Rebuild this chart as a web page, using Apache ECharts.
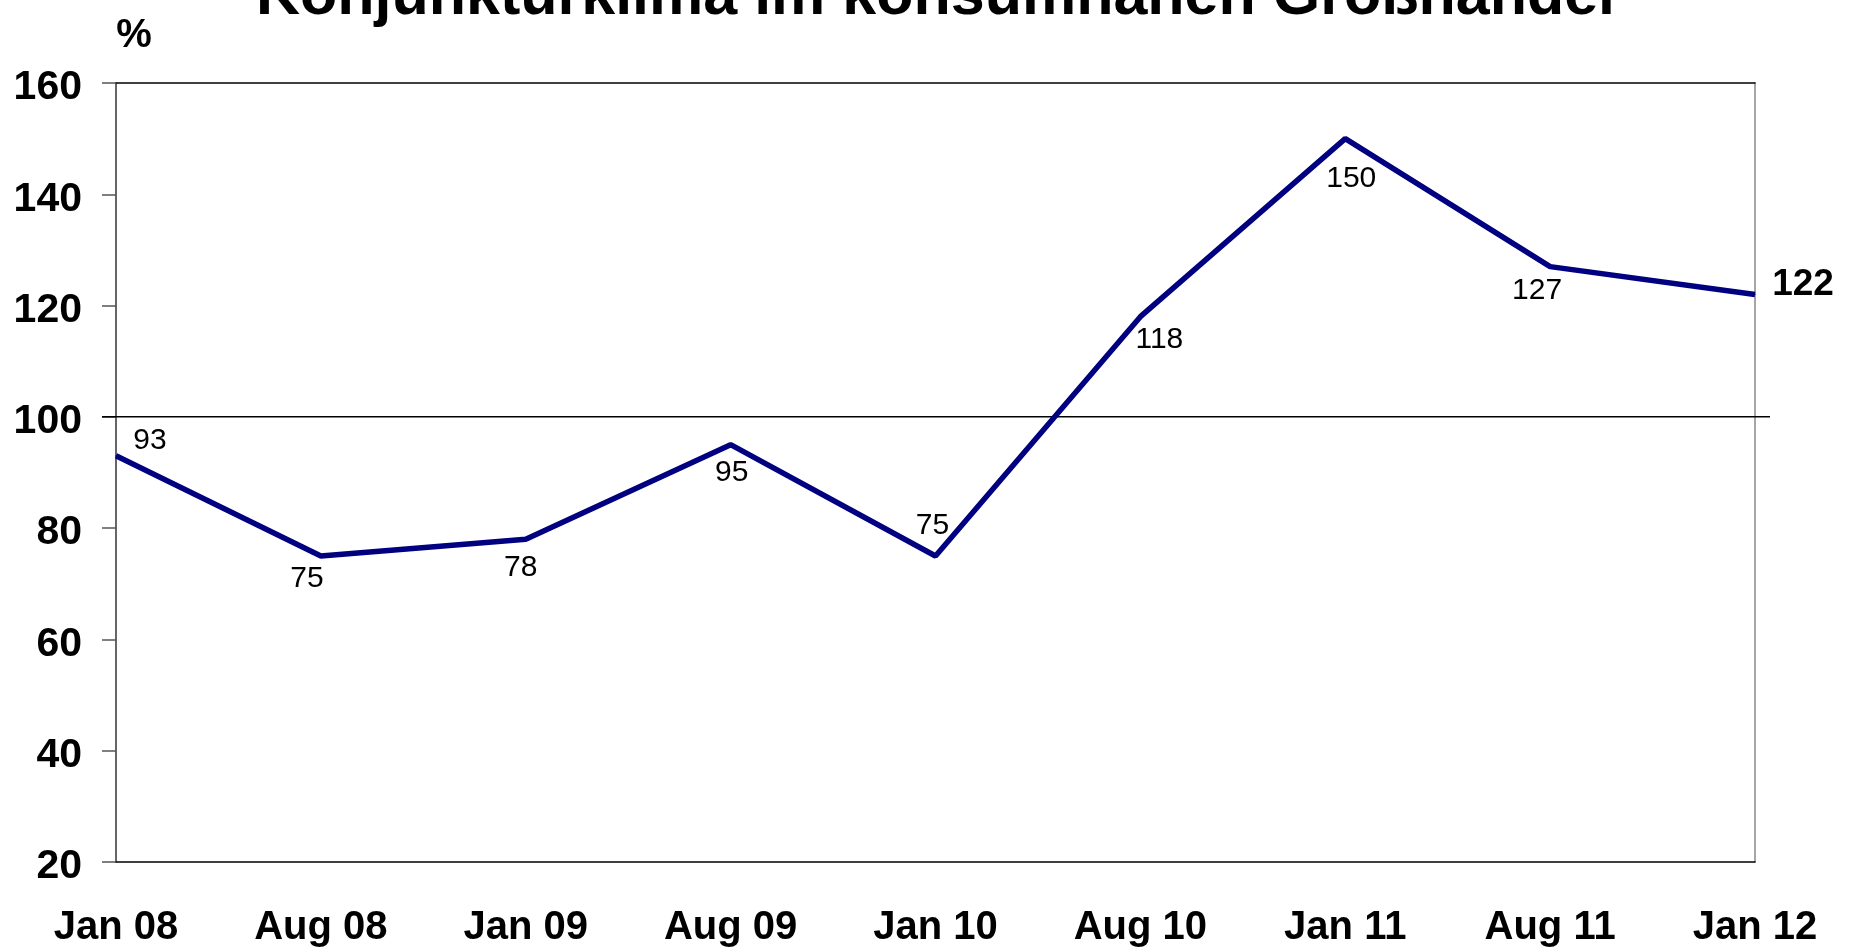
<!DOCTYPE html>
<html>
<head>
<meta charset="utf-8">
<script src="https://cdn.jsdelivr.net/npm/echarts@6/dist/echarts.min.js"></script>
<style>
  html, body { margin: 0; padding: 0; background: #fff; }
  #chart { width: 1854px; height: 950px; }
</style>
</head>
<body>
<div id="chart"></div>
<script>
// Konjunkturklima im konsumnahen Großhandel (Index, %)
const categories = ['Jan 08', 'Aug 08', 'Jan 09', 'Aug 09', 'Jan 10', 'Aug 10', 'Jan 11', 'Aug 11', 'Jan 12'];
const klima = [93, 75, 78, 95, 75, 118, 150, 127, 122];
// label offsets (px) relative to each point, so labels sit beside the line
const labelOffsets = [[34, -15], [-14, 23], [-5, 28], [1, 28], [-3, -30], [19, 23], [6, 40], [-13, 24], [48, -10]];
const yTicks = { min: 20, max: 160, interval: 20 };
const referenceLevel = 100;

const FONT = '"Liberation Sans", Arial, sans-serif';
const chart = echarts.init(document.getElementById('chart'), null, { renderer: 'canvas' });

const seriesData = klima.map((v, i) => {
  const last = i === klima.length - 1;
  return {
    value: v,
    label: {
      show: true,
      position: 'inside',
      offset: labelOffsets[i],
      fontFamily: FONT,
      fontSize: last ? 37 : 30,
      fontWeight: last ? 'bold' : 'normal',
      color: '#000'
    }
  };
});

const option = {
  backgroundColor: '#fff',
  animation: false,
  grid: { left: 116, right: 99, top: 83, bottom: 88, containLabel: false },
  xAxis: [{
    type: 'category',
    data: categories,
    boundaryGap: false,
    axisLine: { show: true, lineStyle: { color: '#000', width: 1.5 } },
    axisTick: { show: false },
    axisLabel: { color: '#000', fontFamily: FONT, fontWeight: 'bold', fontSize: 40, margin: 46 },
    splitLine: { show: false }
  }, {
    type: 'category',
    data: categories,
    position: 'top',
    boundaryGap: false,
    axisLine: { show: true, lineStyle: { color: '#000', width: 1.5 } },
    axisTick: { show: false },
    axisLabel: { show: false },
    splitLine: { show: false }
  }],
  yAxis: [{
    type: 'value',
    min: yTicks.min,
    max: yTicks.max,
    interval: yTicks.interval,
    axisLine: { show: true, lineStyle: { color: '#333', width: 1.5 } },
    axisTick: { show: true, inside: false, length: 14, lineStyle: { color: '#555', width: 1.5 } },
    axisLabel: {
      color: '#000', fontFamily: FONT, fontWeight: 'bold', fontSize: 41, margin: 34,
      verticalAlign: 'top', lineHeight: 10
    },
    splitLine: { show: false }
  }, {
    type: 'value',
    position: 'right',
    min: yTicks.min,
    max: yTicks.max,
    interval: yTicks.interval,
    axisLine: { show: true, lineStyle: { color: '#888', width: 1.5 } },
    axisTick: { show: false },
    axisLabel: { show: false },
    splitLine: { show: false }
  }],
  series: [{
    type: 'line',
    xAxisIndex: 0,
    yAxisIndex: 0,
    data: seriesData,
    symbol: 'circle',
    symbolSize: 1,
    showSymbol: true,
    itemStyle: { color: '#000080' },
    lineStyle: { color: '#000080', width: 5.5 },
    z: 5
  }]
};

chart.setOption(option);

// reference line at 100 and the titles, positioned via the axis scales
const yRef = chart.convertToPixel({ yAxisIndex: 0 }, referenceLevel);
const xLeft = chart.convertToPixel({ xAxisIndex: 0 }, categories[0]);
const xRight = chart.convertToPixel({ xAxisIndex: 0 }, categories[categories.length - 1]);
chart.setOption({
  graphic: [{
    type: 'line',
    shape: { x1: xLeft - 14, y1: yRef, x2: xRight + 15, y2: yRef },
    style: { stroke: '#000', lineWidth: 1.5 },
    z: 3
  }, {
    type: 'text',
    x: (xLeft + xRight) / 2,
    y: -33,
    style: {
      text: 'Konjunkturklima im konsumnahen Großhandel',
      font: 'bold 61px ' + FONT,
      fill: '#000',
      align: 'center',
      verticalAlign: 'top'
    }
  }, {
    type: 'text',
    x: 134,
    y: 36,
    style: {
      text: '%',
      font: 'bold 40px ' + FONT,
      fill: '#000',
      align: 'center',
      verticalAlign: 'middle'
    }
  }]
});
</script>
</body>
</html>
